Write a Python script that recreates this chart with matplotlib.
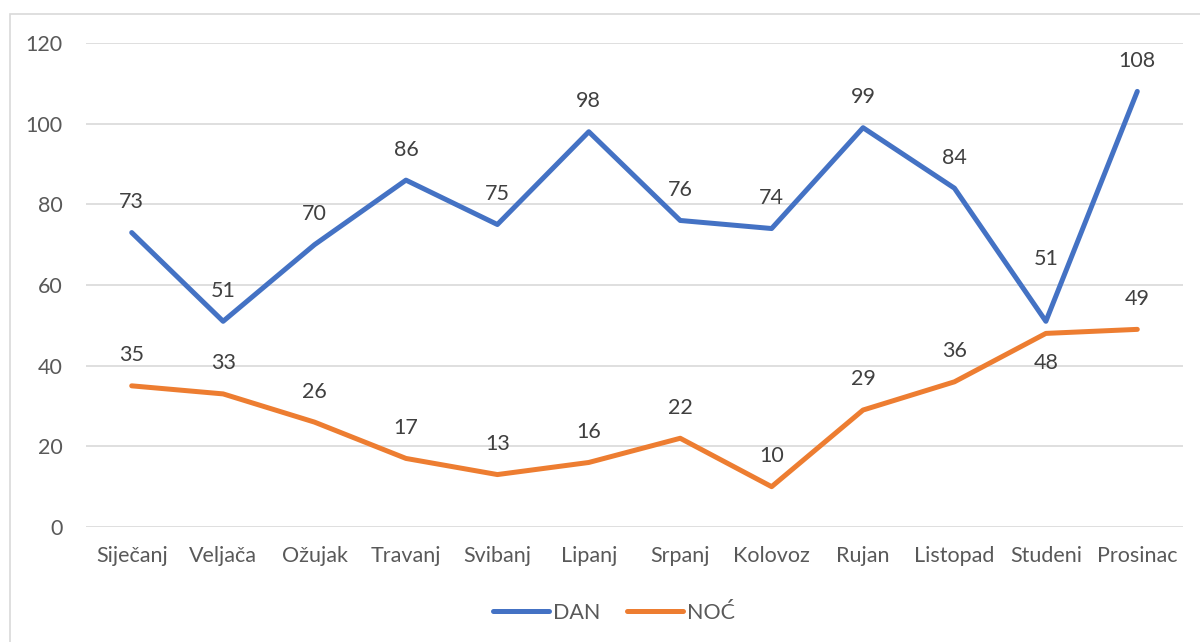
import matplotlib.pyplot as plt
from matplotlib.patches import Rectangle

months = ["Siječanj", "Veljača", "Ožujak", "Travanj", "Svibanj", "Lipanj",
          "Srpanj", "Kolovoz", "Rujan", "Listopad", "Studeni", "Prosinac"]
dan = [73, 51, 70, 86, 75, 98, 76, 74, 99, 84, 51, 108]
noc = [35, 33, 26, 17, 13, 16, 22, 10, 29, 36, 48, 49]
# labels moved to avoid overlaps
dan_raised = ["Studeni"]
noc_below = ["Studeni"]

plt.rcParams['font.family'] = ['Lato', 'DejaVu Sans']
txt = "#595959"
fs = 15.5

fig = plt.figure(figsize=(12, 6.42), dpi=100)
ax = fig.add_axes([86/1200, 1 - 527/642, 1097/1200, (527 - 43)/642])

# outer chart border
fig.patches.append(Rectangle((10/1200, -0.1), 1.2, 1.1 - 14/642, transform=fig.transFigure,
                             fill=False, edgecolor="#D9D9D9", linewidth=1.2))

x = list(range(len(months)))
l1, = ax.plot(x, dan, color="#4472C4", linewidth=3.6, solid_capstyle="round",
              solid_joinstyle="round", label="DAN")
l2, = ax.plot(x, noc, color="#ED7D31", linewidth=3.6, solid_capstyle="round",
              solid_joinstyle="round", label="NOĆ")

for i, v in enumerate(dan):
    dy = 45 if months[i] in dan_raised else 22
    ax.annotate(str(v), (i, v), xytext=(0, dy), textcoords="offset points",
                ha="center", va="center", fontsize=fs, color="#404040")
for i, v in enumerate(noc):
    dy = -21 if months[i] in noc_below else 22
    ax.annotate(str(v), (i, v), xytext=(0, dy), textcoords="offset points",
                ha="center", va="center", fontsize=fs, color="#404040")

ax.set_xlim(-0.5, len(months) - 0.5)
ax.set_ylim(0, 120)
ax.set_yticks(range(0, 121, 20))
ax.set_xticks(x)
ax.set_xticklabels(months)
ax.tick_params(length=0, labelsize=fs, labelcolor=txt)
ax.tick_params(axis="y", pad=17)
ax.tick_params(axis="x", pad=14)
ax.grid(axis="y", color="#D9D9D9", linewidth=1.2)
ax.set_axisbelow(True)
for s in ax.spines.values():
    s.set_visible(False)

fig.legend(handles=[l1, l2], loc="center", bbox_to_anchor=(614/1200, 1 - 613/642),
           ncol=2, frameon=False, fontsize=fs, labelcolor=txt, handlelength=2.6,
           handletextpad=0.2, columnspacing=1.2)

fig.savefig("out.png", dpi=100)
